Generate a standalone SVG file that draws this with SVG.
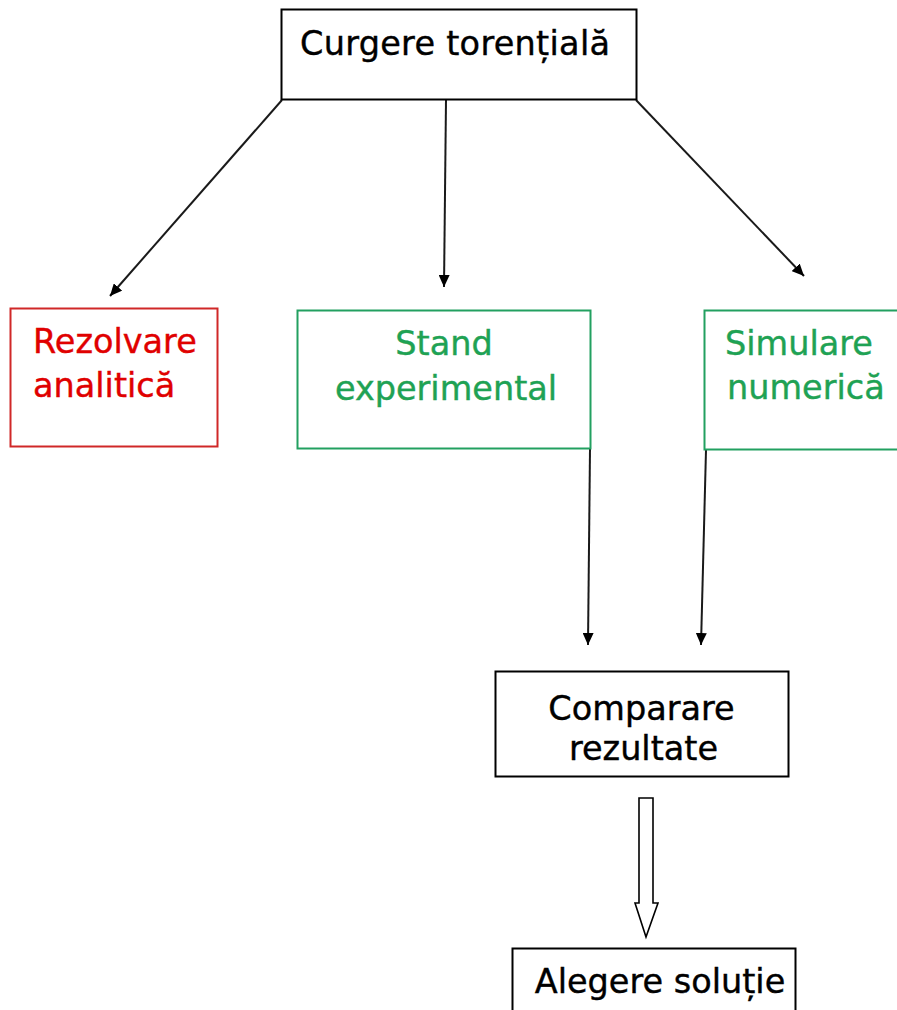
<svg xmlns="http://www.w3.org/2000/svg" width="897" height="1010" viewBox="0 0 897 1010">
<style>
.box{fill:#fff;stroke:#000;stroke-width:2}
.red{fill:#fff;stroke:#d02828;stroke-width:2}
.grn{fill:#fff;stroke:#22a060;stroke-width:2}
text{font-family:"DejaVu Sans","Verdana",sans-serif;font-size:33.5px;stroke-width:0.4}
.tb{fill:#000;stroke:#000}
.tr{fill:#e00000;stroke:#e00000}
.tg{fill:#1fa254;stroke:#1fa254}
.ln{stroke:#1a1a1a;stroke-width:2;fill:none;marker-end:url(#ah)}
</style>
<defs>
<marker id="ah" viewBox="0 0 12 11" refX="12" refY="5.5" markerWidth="12" markerHeight="11" markerUnits="userSpaceOnUse" orient="auto">
<path d="M0,0 L12,5.5 L0,11 z" fill="#000"/>
</marker>
</defs>
<g id="connectors">
<line class="ln" x1="282" y1="100" x2="110" y2="296"/>
<line class="ln" x1="446" y1="100" x2="444" y2="287"/>
<line class="ln" x1="636" y1="100" x2="804" y2="276"/>
<line class="ln" x1="590" y1="449" x2="588" y2="645"/>
<line class="ln" x1="706" y1="450" x2="701" y2="645"/>
<path d="M639,798 L653,798 L653,903 L658,903 L646,937 L635,903 L639,903 Z" fill="#fff" stroke="#000" stroke-width="1.6"/>
</g>
<g id="n-curgere">
<rect class="box" x="281.5" y="9.5" width="355" height="90"/>
<text class="tb" x="455" y="55" text-anchor="middle" textLength="310">Curgere torențială</text>
</g>
<g id="n-rezolvare">
<rect class="red" x="10.5" y="308.5" width="207" height="138"/>
<text class="tr" x="33" y="353">Rezolvare</text>
<text class="tr" x="33" y="397">analitică</text>
</g>
<g id="n-stand">
<rect class="grn" x="297.5" y="310.5" width="293" height="138"/>
<text class="tg" x="444" y="355" text-anchor="middle">Stand</text>
<text class="tg" x="446" y="400" text-anchor="middle">experimental</text>
</g>
<g id="n-simulare">
<rect class="grn" x="704.5" y="310.5" width="230" height="139"/>
<text class="tg" x="725" y="355">Simulare</text>
<text class="tg" x="727" y="399">numerică</text>
</g>
<g id="n-comparare">
<rect class="box" x="495.5" y="671.5" width="293" height="105"/>
<text class="tb" x="641.5" y="720" text-anchor="middle">Comparare</text>
<text class="tb" x="643.5" y="760" text-anchor="middle">rezultate</text>
</g>
<g id="n-alegere">
<rect class="box" x="512.5" y="948.5" width="283" height="80"/>
<text class="tb" x="660" y="993" text-anchor="middle">Alegere soluție</text>
</g>
</svg>
